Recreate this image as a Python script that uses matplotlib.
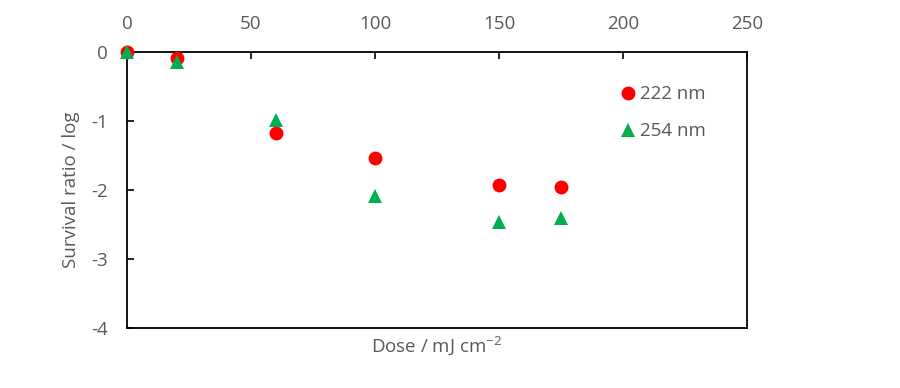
import matplotlib
matplotlib.use("Agg")
import matplotlib.pyplot as plt

plt.rcParams['font.family'] = ['Open Sans', 'DejaVu Sans']
plt.rcParams['mathtext.default'] = 'regular'

# doses (mJ cm-2)
dose = [0, 20, 60, 100, 150, 175]
# log survival ratio
surv_222 = [0.0, -0.09, -1.17, -1.53, -1.93, -1.96]
surv_254 = [0.0, -0.14, -0.99, -2.08, -2.47, -2.40]

x_ticks = [0, 50, 100, 150, 200, 250]
y_ticks = [0, -1, -2, -3, -4]

text_color = '#595959'
fs = 13.5

fig = plt.figure(figsize=(9, 3.88), dpi=100)
ax = fig.add_axes([0.1411, 0.1546, 0.6889, 0.7113])

ax.plot(dose, surv_222, 'o', color='#ff0000', markersize=10, label='222 nm',
        markeredgewidth=0, zorder=3, clip_on=False)
ax.plot(dose, surv_254, '^', color='#00b050', markersize=10, label='254 nm',
        markeredgewidth=0, zorder=4, clip_on=False)

ax.set_xlim(0, 250)
ax.set_ylim(-4, 0)
ax.set_xticks(x_ticks)
ax.set_yticks(y_ticks)
ax.set_yticklabels([str(v) for v in y_ticks])

ax.xaxis.tick_top()
ax.tick_params(axis='both', direction='in', length=5, width=1.2, colors='black',
               labelcolor=text_color, labelsize=fs)
ax.tick_params(axis='x', pad=14)
ax.tick_params(axis='y', pad=14)
for s in ax.spines.values():
    s.set_linewidth(1.3)

ax.set_xlabel('Dose / mJ cm$^{-2}$', color=text_color, fontsize=fs, labelpad=5)
ax.xaxis.set_label_position('bottom')
ax.set_ylabel('Survival ratio / log', color=text_color, fontsize=fs, labelpad=8)

leg = ax.legend(loc='upper left', bbox_to_anchor=(0.762, 0.94), frameon=False,
                fontsize=fs, handletextpad=0.05, labelspacing=1.0,
                handlelength=1.2)
for t in leg.get_texts():
    t.set_color(text_color)

fig.savefig('out.png', dpi=100)
